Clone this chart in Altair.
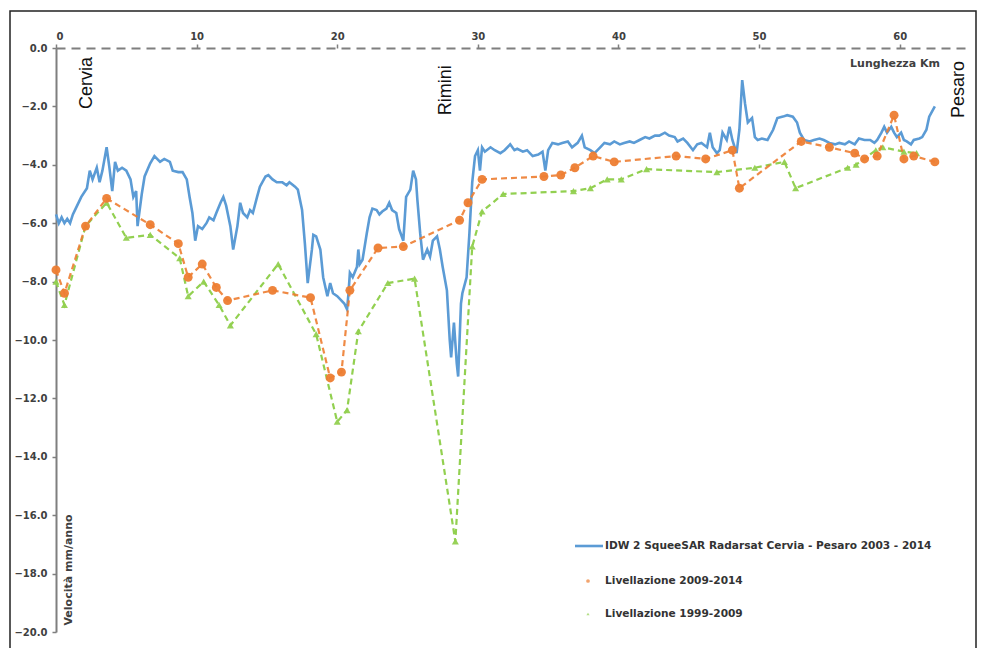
import altair as alt
import pandas as pd

# ---- data (km along coast, velocity mm/anno) ----
blue_points = [
    (0.0, -5.7), (0.2, -6.0), (0.4, -5.8), (0.6, -6.0), (0.8, -5.85), (1.0, -6.0), (1.2, -5.7),
    (1.4, -5.5), (1.8, -5.1), (2.2, -4.8), (2.4, -4.2), (2.6, -4.5), (2.9, -4.1), (3.1, -4.6),
    (3.3, -4.2), (3.6, -3.4), (3.8, -4.1), (4.0, -4.9), (4.2, -3.9), (4.4, -4.2), (4.7, -4.1),
    (5.0, -4.2), (5.3, -4.5), (5.5, -5.1), (5.7, -4.9), (5.8, -6.1), (6.1, -5.0), (6.3, -4.4),
    (6.7, -3.95), (7.0, -3.7), (7.4, -3.9), (7.7, -3.8), (8.1, -3.9), (8.3, -4.2), (8.7, -4.25),
    (9.0, -4.25), (9.3, -4.5), (9.5, -5.1), (9.7, -5.65), (9.9, -6.6), (10.1, -6.1), (10.4, -6.2),
    (10.7, -6.0), (10.9, -5.8), (11.2, -5.9), (11.4, -5.65), (11.7, -5.3), (11.9, -5.1), (12.1, -5.4),
    (12.4, -6.1), (12.6, -6.9), (12.9, -6.1), (13.1, -5.3), (13.3, -5.65), (13.6, -5.8), (13.8, -5.55),
    (14.0, -5.65), (14.3, -5.1), (14.5, -4.75), (14.9, -4.4), (15.1, -4.35), (15.4, -4.5), (15.7, -4.6),
    (15.9, -4.6), (16.1, -4.6), (16.4, -4.7), (16.6, -4.6), (17.0, -4.75), (17.2, -4.85), (17.5, -5.55),
    (17.7, -6.7), (17.9, -8.05), (18.2, -6.9), (18.3, -6.4), (18.5, -6.45), (18.8, -6.9), (19.0, -7.85),
    (19.3, -8.5), (19.5, -8.05), (19.7, -8.4), (20.0, -8.5), (20.2, -8.6), (20.5, -8.75), (20.7, -8.95),
    (20.8, -8.4), (20.9, -7.7), (21.1, -7.85), (21.4, -7.5), (21.5, -6.9), (21.6, -7.4), (21.8, -7.25),
    (22.1, -6.35), (22.3, -5.8), (22.5, -5.5), (22.8, -5.55), (23.0, -5.7), (23.2, -5.6), (23.5, -5.5),
    (23.7, -5.3), (23.9, -5.55), (24.2, -5.65), (24.4, -6.2), (24.7, -6.6), (24.9, -5.1), (25.2, -4.85),
    (25.4, -4.2), (25.6, -4.5), (25.7, -5.2), (25.9, -6.35), (26.1, -7.25), (26.4, -6.9), (26.6, -7.15),
    (26.8, -6.6), (27.1, -6.45), (27.3, -6.9), (27.5, -7.5), (27.8, -8.3), (28.0, -10.0), (28.1, -10.6),
    (28.3, -9.4), (28.5, -10.8), (28.6, -11.25), (28.8, -8.75), (28.9, -8.4), (29.2, -7.85), (29.4, -6.35),
    (29.6, -4.6), (29.8, -3.7), (30.0, -3.5), (30.15, -4.2), (30.3, -3.4), (30.5, -3.55), (30.9, -3.4),
    (31.2, -3.5), (31.6, -3.6), (31.9, -3.5), (32.3, -3.3), (32.6, -3.5), (32.8, -3.45), (33.2, -3.55),
    (33.5, -3.5), (33.9, -3.7), (34.3, -3.65), (34.6, -3.55), (34.8, -4.2), (35.0, -3.5), (35.3, -3.25),
    (35.7, -3.3), (36.0, -3.25), (36.4, -3.2), (36.7, -3.4), (37.1, -3.25), (37.4, -3.0), (37.6, -3.4),
    (38.0, -3.5), (38.3, -3.6), (38.7, -3.4), (39.0, -3.25), (39.4, -3.3), (39.7, -3.2), (40.1, -3.3),
    (40.4, -3.25), (40.8, -3.2), (41.1, -3.25), (41.5, -3.15), (41.9, -3.05), (42.2, -3.1), (42.6, -3.0),
    (42.9, -3.0), (43.3, -2.9), (43.6, -3.0), (44.0, -3.05), (44.2, -3.2), (44.6, -3.1), (44.9, -3.25),
    (45.3, -3.5), (45.6, -3.3), (45.9, -3.25), (46.3, -3.4), (46.5, -2.9), (46.7, -3.4), (47.0, -3.6),
    (47.2, -3.5), (47.4, -2.9), (47.7, -3.15), (47.9, -2.7), (48.1, -3.15), (48.4, -3.6), (48.6, -2.8),
    (48.8, -1.1), (49.0, -1.9), (49.2, -2.55), (49.5, -2.4), (49.7, -3.05), (49.9, -3.15), (50.2, -3.1),
    (50.6, -3.15), (51.0, -2.8), (51.3, -2.4), (51.7, -2.35), (52.0, -2.3), (52.4, -2.35), (52.7, -2.55),
    (52.9, -2.9), (53.2, -3.15), (53.6, -3.2), (53.9, -3.15), (54.3, -3.1), (54.6, -3.15), (55.0, -3.25),
    (55.4, -3.3), (55.7, -3.25), (56.1, -3.3), (56.4, -3.2), (56.8, -3.3), (57.1, -3.1), (57.5, -3.15),
    (57.9, -3.15), (58.2, -3.25), (58.4, -3.15), (58.7, -2.9), (58.9, -2.7), (59.1, -2.9), (59.4, -2.7),
    (59.6, -2.9), (59.8, -3.05), (60.1, -2.9), (60.3, -3.15), (60.5, -3.2), (60.8, -3.3), (61.0, -3.15),
    (61.4, -3.1), (61.6, -3.05), (61.9, -2.8), (62.1, -2.35), (62.5, -2.0),
]

orange_points = [
    (0.0, -7.6), (0.6, -8.4), (2.1, -6.1), (3.6, -5.15), (6.7, -6.05), (8.7, -6.7), (9.4, -7.85),
    (10.4, -7.4), (11.4, -8.2), (12.2, -8.65), (15.4, -8.3), (18.1, -8.55), (19.5, -11.3), (20.3, -11.1),
    (20.9, -8.3), (22.9, -6.85), (24.7, -6.8), (28.7, -5.9), (29.3, -5.3), (30.3, -4.5), (34.7, -4.4),
    (35.9, -4.35), (36.9, -4.1), (38.2, -3.7), (39.7, -3.9), (44.1, -3.7), (46.2, -3.8), (48.1, -3.5),
    (48.6, -4.8), (53.0, -3.2), (55.0, -3.4), (56.8, -3.6), (57.5, -3.8), (58.4, -3.7), (59.6, -2.3),
    (60.3, -3.8), (61.0, -3.7), (62.5, -3.9),
]

green_points = [
    (0.0, -8.0), (0.6, -8.8), (2.1, -6.1), (3.6, -5.3), (5.0, -6.5), (6.7, -6.4), (8.8, -7.2),
    (9.4, -8.5), (10.5, -8.0), (11.6, -8.8), (12.4, -9.5), (15.8, -7.4), (18.5, -9.8), (20.0, -12.8),
    (20.7, -12.4), (21.5, -9.7), (23.6, -8.05), (25.5, -7.9), (28.4, -16.9), (29.6, -6.8), (30.3, -5.6),
    (31.8, -5.0), (36.8, -4.9), (38.0, -4.8), (39.2, -4.5), (40.2, -4.5), (42.0, -4.15), (47.0, -4.25),
    (49.7, -4.1), (51.8, -3.9), (52.6, -4.8), (56.3, -4.1), (56.9, -4.0), (58.3, -3.5), (58.8, -3.4),
    (60.3, -3.55), (61.2, -3.6),
]

series_names = [
    "IDW 2 SqueeSAR Radarsat Cervia - Pesaro 2003 - 2014",
    "Livellazione 2009-2014",
    "Livellazione 1999-2009",
]
series_colors = ["#5B9BD5", "#ED7D31", "#92D050"]

place_names = ["Cervia", "Rimini", "Pesaro"]
place_km = [2.2, 27.7, 64.2]
place_vel = [-1.2, -1.45, -1.42]

x_ticks = [0, 10, 20, 30, 40, 50, 60]
y_ticks = [0, -2, -4, -6, -8, -10, -12, -14, -16, -18, -20]

# ---- chart ----
W, H = 914, 584
FONT = "DejaVu Sans"
xs = alt.Scale(domain=[0, 65], nice=False, zero=False)
ys = alt.Scale(domain=[-20, 0], nice=False, zero=False)

blue_df = pd.DataFrame(blue_points, columns=["km", "vel"])
orange_df = pd.DataFrame(orange_points, columns=["km", "vel"])
green_df = pd.DataFrame(green_points, columns=["km", "vel"])
place_df = pd.DataFrame({"name": place_names, "km": place_km, "vel": place_vel})

x_axis = alt.Axis(orient="top", values=x_ticks, format="d", grid=False, title=None,
                  domainDash=[9, 6], domainColor="#7f7f7f", domainWidth=2,
                  tickColor="#7f7f7f", tickSize=4, tickWidth=1.5, labelPadding=3,
                  labelFont=FONT, labelFontWeight="bold", labelFontSize=10, labelColor="#404040")
y_axis = alt.Axis(orient="left", values=y_ticks, format=".1f", grid=False, title=None,
                  domainColor="#7f7f7f", domainWidth=2, tickColor="#7f7f7f", tickSize=4,
                  tickWidth=1.5, labelPadding=5, labelFont=FONT, labelFontWeight="bold",
                  labelFontSize=10, labelColor="#404040")

X = alt.X("km:Q", scale=xs, axis=x_axis)
Y = alt.Y("vel:Q", scale=ys, axis=y_axis)

frame = alt.Chart(pd.DataFrame({"a": [0]})).mark_rect(filled=False, stroke="#222222", strokeWidth=1.5).encode(
    x=alt.value(-46), x2=alt.value(920), y=alt.value(-37), y2=alt.value(640)
)

blue_line = alt.Chart(blue_df).mark_line(color=series_colors[0], strokeWidth=2.6).encode(x=X, y=Y)

green_line = alt.Chart(green_df).mark_line(color=series_colors[2], strokeWidth=2.2, strokeDash=[6, 4]).encode(
    x=alt.X("km:Q", scale=xs), y=alt.Y("vel:Q", scale=ys))
green_pts = alt.Chart(green_df).mark_point(shape="triangle-up", filled=True, size=50,
                                           color=series_colors[2], opacity=0.95).encode(
    x=alt.X("km:Q", scale=xs), y=alt.Y("vel:Q", scale=ys))

orange_line = alt.Chart(orange_df).mark_line(color=series_colors[1], strokeWidth=2.2, strokeDash=[6, 4], opacity=0.9).encode(
    x=alt.X("km:Q", scale=xs), y=alt.Y("vel:Q", scale=ys))
orange_pts = alt.Chart(orange_df).mark_point(shape="circle", filled=True, size=80,
                                             color=series_colors[1], opacity=0.95).encode(
    x=alt.X("km:Q", scale=xs), y=alt.Y("vel:Q", scale=ys))

places = alt.Chart(place_df).mark_text(angle=270, font="Liberation Sans", fontSize=18, color="#111111",
                                       align="center", baseline="middle").encode(
    x=alt.X("km:Q", scale=xs), y=alt.Y("vel:Q", scale=ys), text="name:N")

km_title = alt.Chart(pd.DataFrame({"t": ["Lunghezza Km"]})).mark_text(
    font=FONT, fontSize=11, fontWeight="bold", color="#404040", align="right", baseline="middle").encode(
    x=alt.value(884), y=alt.value(16), text="t:N")

vel_title = alt.Chart(pd.DataFrame({"t": ["Velocità mm/anno"]})).mark_text(
    font=FONT, fontSize=11, fontWeight="bold", color="#404040", angle=270, align="center", baseline="middle").encode(
    x=alt.value(13), y=alt.value(522), text="t:N")

leg_line = alt.Chart(pd.DataFrame({"a": [0]})).mark_rule(color=series_colors[0], strokeWidth=2.6).encode(
    x=alt.value(519), x2=alt.value(547), y=alt.value(498))
leg_dot1 = alt.Chart(pd.DataFrame({"a": [0]})).mark_point(shape="circle", filled=True, size=14,
                                                          color=series_colors[1]).encode(
    x=alt.value(532), y=alt.value(533))
leg_dot2 = alt.Chart(pd.DataFrame({"a": [0]})).mark_point(shape="triangle-up", filled=True, size=10,
                                                          color=series_colors[2]).encode(
    x=alt.value(532), y=alt.value(566))

leg_texts = []
for name, ypos in zip(series_names, [498, 533, 566]):
    leg_texts.append(
        alt.Chart(pd.DataFrame({"t": [name]})).mark_text(
            font=FONT, fontSize=10.6, fontWeight="bold", color="#333333", align="left", baseline="middle").encode(
            x=alt.value(549), y=alt.value(ypos), text="t:N")
    )

chart = alt.layer(
    frame, blue_line, green_line, green_pts, orange_line, orange_pts, places,
    km_title, vel_title, leg_line, leg_dot1, leg_dot2, *leg_texts
).properties(
    width=W, height=H,
    autosize=alt.AutoSizeParams(type="none"),
    padding={"left": 56, "top": 48, "right": 15, "bottom": 16},
    background="white",
).configure_view(stroke=None)

chart.save("out.html", embed_options={"renderer": "svg", "actions": False})
